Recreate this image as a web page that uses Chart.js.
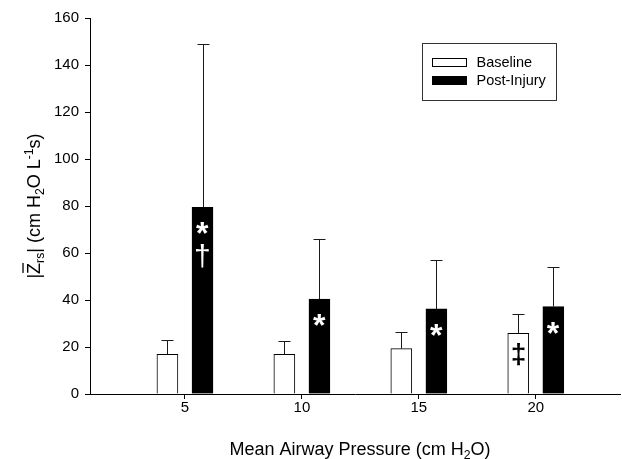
<!DOCTYPE html>
<html>
<head>
<meta charset="utf-8">
<script src="https://cdn.jsdelivr.net/npm/chart.js@4.4.0/dist/chart.umd.min.js"></script>
<style>
  html, body { margin: 0; padding: 0; background: #fff; }
  #wrap { width: 622px; height: 459px; }
</style>
</head>
<body>
<div id="wrap"><canvas id="chart"></canvas></div>
<script>
// values
const pressures = [5, 10, 15, 20];
const baselineMean = [16.9, 16.9, 19.3, 25.8];
const baselineSd = [6.1, 5.8, 6.9, 8.1];
const postMean = [79.4, 40.4, 36.2, 37.2];
const postSd = [69.6, 25.6, 20.8, 16.7];
const baselineMarks = [[], [], [], ['‡']];
const postMarks = [['*', '†'], ['*'], ['*'], ['*']];
const xTicks = [5, 10, 15, 20];
const yTicks = [0, 20, 40, 60, 80, 100, 120, 140, 160];

const FONT = "'Liberation Sans', Arial, Helvetica, sans-serif";
const BAR_OFFSET = 0.75; // half distance between paired bars, in x units

function glyphCentered(ctx, txt, cx, cy) {
  const m = ctx.measureText(txt);
  const x = cx - (m.actualBoundingBoxRight - m.actualBoundingBoxLeft) / 2;
  const y = cy + (m.actualBoundingBoxAscent - m.actualBoundingBoxDescent) / 2;
  ctx.fillText(txt, x, y);
}

// draw a run of text pieces with sub/superscripts, centred on (0,0) baseline
function drawRich(ctx, parts, size) {
  const pieces = parts.map(p => {
    const s = p.small ? size * 0.68 : size;
    ctx.font = s + 'px ' + FONT;
    return { ...p, s, w: ctx.measureText(p.t).width };
  });
  const total = pieces.reduce((a, p) => a + p.w, 0);
  let x = -total / 2;
  ctx.textAlign = 'left';
  ctx.textBaseline = 'alphabetic';
  pieces.forEach(p => {
    ctx.font = p.s + 'px ' + FONT;
    ctx.fillText(p.t, x, p.dy || 0);
    if (p.over) {
      ctx.fillRect(x + 1, -size * 0.98, p.w - 1, 1.3);
    }
    x += p.w;
  });
}

const annotations = {
  id: 'annotations',
  afterDatasetsDraw(chart) {
    const { ctx, scales: { y }, chartArea } = chart;
    const sds = [baselineSd, postSd];
    const means = [baselineMean, postMean];
    const marks = [baselineMarks, postMarks];
    const markColor = ['#000', '#fff'];
    ctx.save();
    // error bars (upper only)
    ctx.strokeStyle = '#1a1a1a';
    ctx.lineWidth = 1;
    for (let d = 0; d < 2; d++) {
      chart.getDatasetMeta(d).data.forEach((bar, i) => {
        const x = Math.round(bar.x) + 0.5;
        const yTop = Math.round(y.getPixelForValue(means[d][i] + sds[d][i])) + 0.5;
        ctx.beginPath();
        ctx.moveTo(x, bar.y);
        ctx.lineTo(x, yTop);
        ctx.moveTo(x - 6, yTop);
        ctx.lineTo(x + 6, yTop);
        ctx.stroke();
      });
    }
    // significance marks inside bars
    const offsets = [21, 49];
    for (let d = 0; d < 2; d++) {
      chart.getDatasetMeta(d).data.forEach((bar, i) => {
        marks[d][i].forEach((m, k) => {
          ctx.fillStyle = markColor[d];
          if (m === '*') ctx.font = 'bold 32px ' + FONT;
          else if (m === '†') ctx.font = '30px ' + FONT;
          else ctx.font = 'bold 28px ' + FONT;
          glyphCentered(ctx, m, bar.x, bar.y + offsets[k]);
        });
      });
    }
    // legend box
    const lx = 422.5, ly = 43.5, lw = 134, lh = 57;
    ctx.strokeStyle = '#333';
    ctx.lineWidth = 1;
    ctx.strokeRect(lx, ly, lw, lh);
    const items = chart.data.datasets;
    items.forEach((ds, k) => {
      const sy = ly + 15 + k * 18;
      ctx.fillStyle = ds.backgroundColor;
      ctx.fillRect(lx + 10, sy, 34, 8);
      ctx.strokeStyle = '#000';
      ctx.strokeRect(lx + 10, sy, 34, 8);
      ctx.fillStyle = '#000';
      ctx.font = '14.5px ' + FONT;
      ctx.textAlign = 'left';
      ctx.textBaseline = 'middle';
      ctx.fillText(ds.label, lx + 54, sy + 4.5);
    });
    // axis titles
    ctx.fillStyle = '#000';
    ctx.save();
    ctx.translate((chartArea.left + chartArea.right) / 2 + 5, 455);
    drawRich(ctx, [
      { t: 'Mean Airway Pressure (cm H' },
      { t: '2', small: true, dy: 4 },
      { t: 'O)' }
    ], 18);
    ctx.restore();
    ctx.save();
    ctx.translate(40, (chartArea.top + chartArea.bottom) / 2);
    ctx.rotate(-Math.PI / 2);
    drawRich(ctx, [
      { t: '|' },
      { t: 'Z', over: true },
      { t: 'rs', small: true, dy: 4 },
      { t: '| (cm H' },
      { t: '2', small: true, dy: 4 },
      { t: 'O L' },
      { t: '-1', small: true, dy: -7 },
      { t: 's)' }
    ], 18);
    ctx.restore();
    ctx.restore();
  }
};

new Chart(document.getElementById('chart'), {
  type: 'bar',
  data: {
    datasets: [
      {
        label: 'Baseline',
        data: pressures.map((p, i) => ({ x: p - BAR_OFFSET, y: baselineMean[i] })),
        backgroundColor: '#fff',
        borderColor: '#000',
        borderWidth: 1,
        barThickness: 21,
        grouped: false
      },
      {
        label: 'Post-Injury',
        data: pressures.map((p, i) => ({ x: p + BAR_OFFSET, y: postMean[i] })),
        backgroundColor: '#000',
        borderColor: '#000',
        borderWidth: 1,
        barThickness: 21,
        grouped: false
      }
    ]
  },
  options: {
    responsive: true,
    maintainAspectRatio: false,
    animation: false,
    layout: { padding: { top: 18, right: 2, left: 0, bottom: 0 } },
    plugins: { legend: { display: false }, tooltip: { enabled: false } },
    scales: {
      x: {
        type: 'linear',
        offset: false,
        min: 0.94,
        max: 23.6,
        afterBuildTicks: (s) => { s.ticks = xTicks.map(v => ({ value: v })); },
        afterFit: (s) => { s.height = 65; },
        grid: { offset: false, drawOnChartArea: false, drawTicks: true, tickLength: 5, color: '#000' },
        border: { color: '#000', width: 1 },
        ticks: { color: '#000', font: { family: FONT, size: 15 }, padding: 0, autoSkip: false, maxRotation: 0 }
      },
      y: {
        min: 0,
        max: 160,
        afterBuildTicks: (s) => { s.ticks = yTicks.map(v => ({ value: v })); },
        afterFit: (s) => { s.width = 90; },
        grid: { drawOnChartArea: false, drawTicks: true, tickLength: 5, color: '#000' },
        border: { color: '#000', width: 1 },
        ticks: { color: '#000', font: { family: FONT, size: 15 }, padding: 6 }
      }
    }
  },
  plugins: [annotations]
});
</script>
</body>
</html>
